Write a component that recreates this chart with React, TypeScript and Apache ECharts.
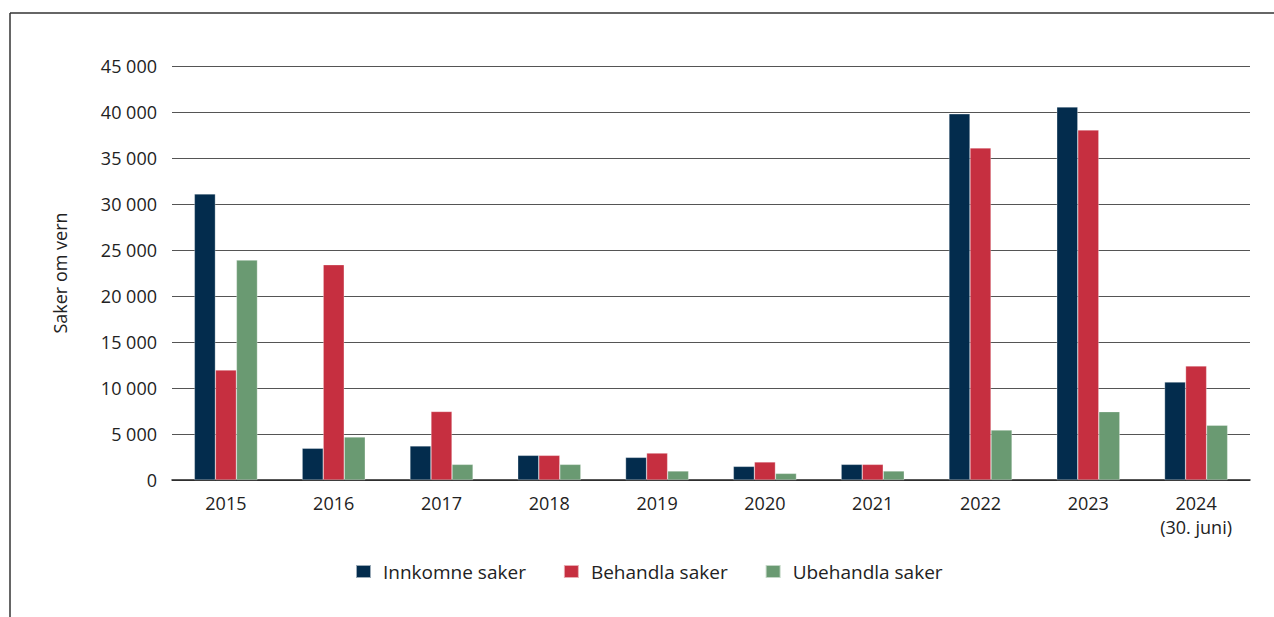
import React, { useEffect, useRef } from "react";
import * as echarts from "echarts";

const categories = ["2015", "2016", "2017", "2018", "2019", "2020", "2021", "2022", "2023", "2024\n(30. juni)"];
const innkomne = [31100, 3450, 3700, 2680, 2460, 1480, 1700, 39800, 40550, 10650];
const behandla = [11950, 23400, 7450, 2680, 2930, 1960, 1700, 36100, 38050, 12400];
const ubehandla = [23900, 4680, 1700, 1700, 980, 720, 980, 5430, 7430, 5950];
const yTicks = { min: 0, max: 45000, interval: 5000 };

const FONT = "'Open Sans', sans-serif";

export default function App() {
  const ref = useRef<HTMLDivElement>(null);
  useEffect(() => {
    document.body.style.margin = "0";
    const chart = echarts.init(ref.current!, null, { renderer: "svg" });
    const barCommon = {
      type: "bar" as const,
      barGap: "0%",
      barCategoryGap: "41.5%",
      itemStyle: { borderColor: "rgba(255,255,255,0.6)", borderWidth: 0.5 },
    };
    chart.setOption({
      animation: false,
      backgroundColor: "#fff",
      textStyle: { fontFamily: FONT },
      grid: { left: 172, right: 24, top: 66, bottom: 137 },
      legend: {
        top: 557,
        left: 350,
        itemWidth: 15,
        itemHeight: 13,
        itemGap: 37,
        icon: "rect",
        textStyle: { fontSize: 19, color: "#222", fontFamily: FONT, padding: [0, 0, 0, 7] },
        data: ["Innkomne saker", "Behandla saker", "Ubehandla saker"],
      },
      xAxis: {
        type: "category",
        data: categories,
        axisLine: { lineStyle: { color: "#222", width: 1.5 } },
        axisTick: { show: false },
        axisLabel: { fontSize: 18, color: "#222", margin: 11, lineHeight: 24, fontFamily: FONT },
      },
      yAxis: {
        type: "value",
        min: yTicks.min,
        max: yTicks.max,
        interval: yTicks.interval,
        name: "Saker om vern",
        nameLocation: "middle",
        nameGap: 103,
        nameRotate: 90,
        nameTextStyle: { fontSize: 18, color: "#222", fontFamily: FONT },
        axisLine: { show: false },
        axisTick: { show: false },
        splitLine: { lineStyle: { color: "#555", width: 1.2 } },
        axisLabel: {
          fontSize: 18,
          color: "#222",
          margin: 15,
          fontFamily: FONT,
          formatter: (v: number) => (v >= 1000 ? String(v).replace(/\B(?=(\d{3})+(?!\d))/g, " ") : String(v)),
        },
      },
      graphic: [
        { type: "line", shape: { x1: 10, y1: 13, x2: 1274, y2: 13 }, style: { stroke: "#333", lineWidth: 1.5 } },
        { type: "line", shape: { x1: 10, y1: 13, x2: 10, y2: 617 }, style: { stroke: "#333", lineWidth: 1.5 } },
      ],
      series: [
        { ...barCommon, name: "Innkomne saker", data: innkomne, itemStyle: { ...barCommon.itemStyle, color: "#032c4d" } },
        { ...barCommon, name: "Behandla saker", data: behandla, itemStyle: { ...barCommon.itemStyle, color: "#c62f40" } },
        { ...barCommon, name: "Ubehandla saker", data: ubehandla, itemStyle: { ...barCommon.itemStyle, color: "#6a9a72" } },
      ],
    });
    return () => chart.dispose();
  }, []);
  return <div ref={ref} style={{ position: "absolute", left: 0, top: 0, width: 1274, height: 617 }} />;
}
